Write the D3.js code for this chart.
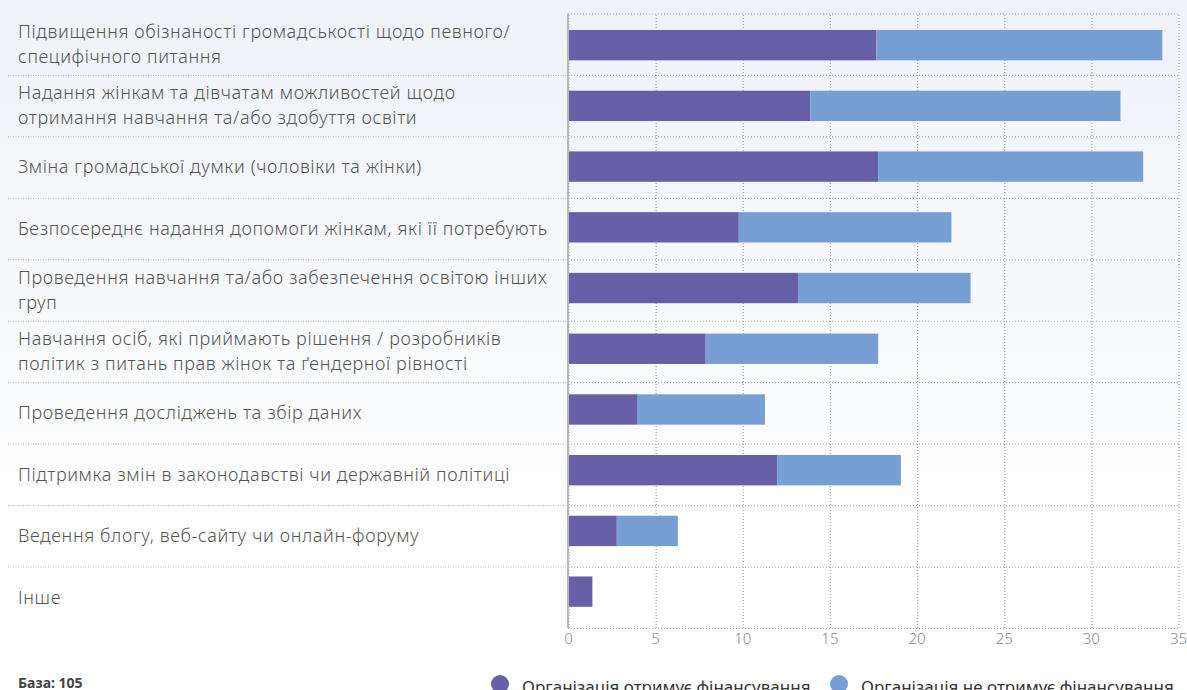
<!DOCTYPE html>
<html>
<head>
<meta charset="utf-8">
<script src="https://cdn.jsdelivr.net/npm/d3@7"></script>
<style>
  html, body { margin: 0; padding: 0; background: #fff; }
  svg { display: block; }
  text { font-family: "Source Sans Pro", "Noto Sans", "Open Sans", sans-serif; }
</style>
</head>
<body>
<svg id="chart" width="1187" height="690"></svg>
<script>
// Activity categories (wrapped label lines)
const categories = [
  ["Підвищення обізнаності громадськості щодо певного/", "специфічного питання"],
  ["Надання жінкам та дівчатам можливостей щодо", "отримання навчання та/або здобуття освіти"],
  ["Зміна громадської думки (чоловіки та жінки)"],
  ["Безпосереднє надання допомоги жінкам, які її потребують"],
  ["Проведення навчання та/або забезпечення освітою інших", "груп"],
  ["Навчання осіб, які приймають рішення / розробників", "політик з питань прав жінок та ґендерної рівності"],
  ["Проведення досліджень та збір даних"],
  ["Підтримка змін в законодавстві чи державній політиці"],
  ["Ведення блогу, веб-сайту чи онлайн-форуму"],
  ["Інше"]
];

// Series values
const funded    = [17.7, 13.9, 17.8, 9.8, 13.2, 7.9, 4.0, 12.0, 2.8, 1.4];
const notFunded = [16.4, 17.8, 15.2, 12.2, 9.9, 9.9, 7.3, 7.1, 3.5, 0];

const seriesNames = ["Організація отримує фінансування", "Організація не отримує фінансування"];
const seriesColors = ["#675fa8", "#779fd3"];
const xTicks = [0, 5, 10, 15, 20, 25, 30, 35];
const baseLabel = "База: 105";

const svg = d3.select("#chart");
const W = 1187, H = 690;

// background wash
const defs = svg.append("defs");
const grad = defs.append("linearGradient").attr("id", "bg").attr("x1", 0).attr("y1", 0).attr("x2", 0).attr("y2", 1);
grad.append("stop").attr("offset", "0%").attr("stop-color", "#eff2f8");
grad.append("stop").attr("offset", "78%").attr("stop-color", "#ffffff");
grad.append("stop").attr("offset", "100%").attr("stop-color", "#ffffff");
svg.append("rect").attr("width", W).attr("height", H).attr("fill", "url(#bg)");

const keys = categories.map((c, i) => i);

const x = d3.scaleLinear().domain([0, 35]).range([568, 1178]);
// rows used for label bands and separators
const yRow = d3.scaleBand().domain(keys).range([13.5, 628]);
// bars
const yBar = d3.scaleBand().domain(keys).range([14.8, 622]).paddingInner(0.5).paddingOuter(0.25);

const gridColor = "#a9a9a9";

// separators in the label area
svg.append("g").selectAll("line").data(keys.slice(1)).join("line")
  .attr("x1", 8).attr("x2", x(0))
  .attr("y1", d => yRow(d) + 0.5).attr("y2", d => yRow(d) + 0.5)
  .attr("stroke", "#b5b5b5").attr("stroke-width", 1).attr("stroke-dasharray", "1,1.5");

// horizontal grid in plot area
const hLines = keys.map(k => yRow(k)).concat([yRow(keys[keys.length - 1]) + yRow.bandwidth()]);
svg.append("g").selectAll("line").data(hLines).join("line")
  .attr("x1", x(0)).attr("x2", x(35))
  .attr("y1", d => d + 0.5).attr("y2", d => d + 0.5)
  .attr("stroke", gridColor).attr("stroke-width", 1.2).attr("stroke-dasharray", "1,2");

// vertical grid
const xAxis = d3.axisBottom(x).tickValues(xTicks).tickSize(-(628 - 13.5)).tickPadding(8);
const gx = svg.append("g").attr("transform", "translate(0,628)").call(xAxis);
gx.select(".domain").remove();
gx.selectAll(".tick line")
  .attr("stroke", gridColor).attr("stroke-width", 1.2).attr("stroke-dasharray", "1,2")
  .attr("transform", "translate(0.5,0)");
gx.selectAll(".tick text")
  .attr("fill", "#8a8a8a").attr("font-size", 15).attr("font-weight", 300)
  .attr("dy", "0.55em");

// stacked bars
const stackData = keys.map(i => ({ i, funded: funded[i], notFunded: notFunded[i] }));
const stacked = d3.stack().keys(["funded", "notFunded"])(stackData);
svg.append("g").selectAll("g").data(stacked).join("g")
  .attr("fill", (d, i) => seriesColors[i])
  .selectAll("rect").data(d => d).join("rect")
  .attr("x", d => x(d[0]))
  .attr("width", d => Math.max(0, x(d[1]) - x(d[0])))
  .attr("y", d => yBar(d.data.i))
  .attr("height", yBar.bandwidth());

// category axis line
svg.append("line")
  .attr("x1", x(0)).attr("x2", x(0)).attr("y1", 13.5).attr("y2", 628)
  .attr("stroke", "#b9b9b9").attr("stroke-width", 2);

// category labels
const lineH = 25;
const lab = svg.append("g").selectAll("text").data(keys).join("text")
  .attr("x", 18)
  .attr("fill", "#555").attr("font-size", 18).attr("font-weight", 300)
  .attr("letter-spacing", 0.62);
lab.each(function(i) {
  const lines = categories[i];
  const cy = yRow(i) + yRow.bandwidth() / 2;
  const t = d3.select(this);
  lines.forEach((s, j) => {
    t.append("tspan").attr("x", 18)
      .attr("y", cy + (j - (lines.length - 1) / 2) * lineH)
      .attr("dy", "0.35em").text(s);
  });
});

// base note
svg.append("text").attr("x", 18).attr("y", 688)
  .attr("fill", "#444").attr("font-size", 14).attr("font-weight", 700)
  .text(baseLabel);

// legend
const legendX = [500, 839];
const lg = svg.append("g").selectAll("g").data(seriesNames).join("g")
  .attr("transform", (d, i) => `translate(${legendX[i]},684)`);
lg.append("circle").attr("r", 9).attr("fill", (d, i) => seriesColors[i]);
lg.append("text").attr("x", 22).attr("y", 0).attr("dy", "0.55em")
  .attr("fill", "#333").attr("font-size", 17).attr("font-weight", 400)
  .text(d => d);
</script>
</body>
</html>
